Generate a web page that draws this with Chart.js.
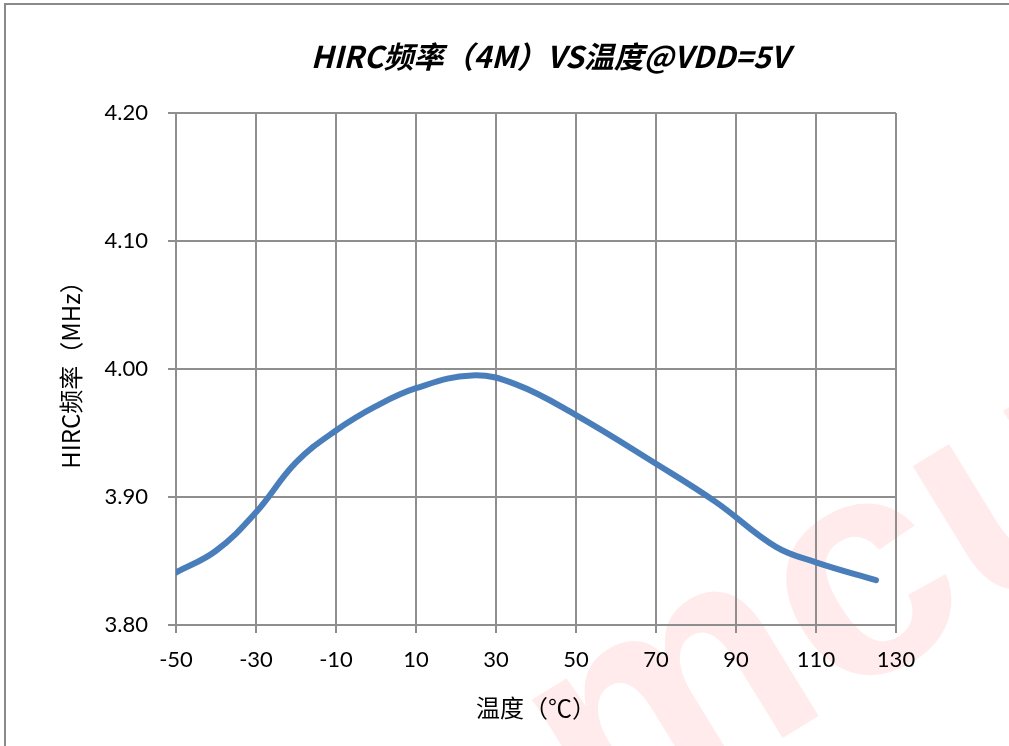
<!DOCTYPE html>
<html>
<head>
<meta charset="utf-8">
<script src="https://cdn.jsdelivr.net/npm/chart.js@4"></script>
<style>
  html, body { margin: 0; padding: 0; background: #fff; }
  #chart { display: block; }
</style>
</head>
<body>
<canvas id="chart" width="1009" height="746"></canvas>
<script>
const ctx = document.getElementById('chart');

// temperature (°C) and HIRC frequency (MHz)
const temps = [-50, -40, -30, -20, -10, 0, 10, 24, 35, 50, 70, 85, 100, 110, 125];
const freqs = [3.841, 3.858, 3.888, 3.927, 3.952, 3.971, 3.985, 3.995, 3.988, 3.964, 3.926, 3.896, 3.861, 3.849, 3.835];

const chartTitle = 'HIRC频率（4M）VS温度@VDD=5V';
const yTitle = 'HIRC频率（MHz）';
const xTitle = '温度（℃）';

const gridColor = '#8e8e8e';
const fontFamily = "Lato, 'Noto Sans CJK SC', sans-serif";

// watermark + title + frame, drawn by hand
const decor = {
    id: 'decor',
    beforeDraw(chart) {
        const c = chart.ctx;
        c.save();
        const g = c.createLinearGradient(0, 380, 0, 746);
        g.addColorStop(0, 'rgba(255,60,60,0.10)');
        g.addColorStop(0.65, 'rgba(255,40,40,0.17)');
        g.addColorStop(1, 'rgba(230,0,0,0.85)');
        c.fillStyle = g;
        c.translate(600, 850);
        c.rotate(-0.55);
        c.font = "bold 310px 'Liberation Sans', sans-serif";
        c.textBaseline = 'alphabetic';
        c.fillText('mcu', 0, 0);
        c.restore();
    },
    afterDraw(chart) {
        const c = chart.ctx;
        const area = chart.chartArea;
        c.save();
        c.fillStyle = '#000';
        c.font = "italic bold 30px 'Noto Sans CJK SC', sans-serif";
        c.textAlign = 'center';
        c.textBaseline = 'middle';
        c.fillText(chartTitle, (area.left + area.right) / 2 + 14, 57);
        // outer frame
        c.strokeStyle = '#8a8a8a';
        c.lineWidth = 2;
        c.beginPath();
        c.moveTo(1009, 4);
        c.lineTo(5, 4);
        c.lineTo(5, 746);
        c.stroke();
        c.restore();
    }
};

const config = {
    type: 'line',
    data: {
        datasets: [{
            label: 'HIRC',
            data: temps.map((t, i) => ({ x: t, y: freqs[i] })),
            borderColor: '#4a7ebb',
            borderWidth: 6,
            borderCapStyle: 'round',
            pointRadius: 0,
            tension: 0.4,
            fill: false,
        }]
    },
    options: {
        responsive: false,
        animation: false,
        layout: {
            padding: { left: 56, right: 113, top: 113, bottom: 24 }
        },
        plugins: {
            legend: { display: false },
            title: { display: false },
            tooltip: { enabled: false }
        },
        scales: {
            x: {
                type: 'linear',
                min: -50,
                max: 130,
                ticks: {
                    stepSize: 20,
                    color: '#000',
                    padding: 14,
                    font: { family: fontFamily, size: 22 }
                },
                grid: { color: gridColor, lineWidth: 2, tickLength: 8 },
                border: { color: gridColor, width: 2 },
                title: {
                    display: true,
                    text: xTitle,
                    color: '#000',
                    padding: { top: 12, bottom: 0 },
                    font: { family: "'Noto Sans CJK SC', sans-serif", size: 24 }
                },
                afterFit(scale) { scale.height = 746 - 625 - 24; }
            },
            y: {
                min: 3.8,
                max: 4.2,
                ticks: {
                    stepSize: 0.1,
                    color: '#000',
                    padding: 20,
                    font: { family: fontFamily, size: 22 },
                    callback: v => v.toFixed(2)
                },
                grid: { color: gridColor, lineWidth: 2, tickLength: 8 },
                border: { color: gridColor, width: 2 },
                title: {
                    display: true,
                    text: yTitle,
                    color: '#000',
                    padding: { top: 0, bottom: 14 },
                    font: { family: "'Noto Sans CJK SC', sans-serif", size: 24 }
                },
                afterFit(scale) { scale.width = 176 - 56; }
            }
        }
    },
    plugins: [decor]
};

const myChart = new Chart(ctx, config);
</script>
</body>
</html>
